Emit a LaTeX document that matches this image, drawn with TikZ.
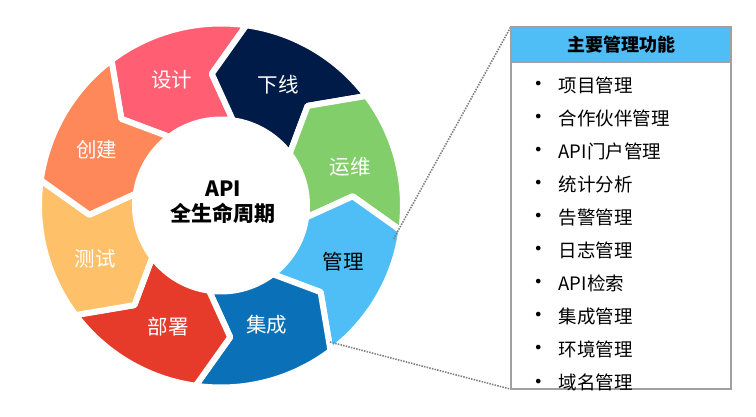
\documentclass[tikz,border=0pt]{standalone}
\usepackage{fontspec}
\newfontfamily\cjk{Noto Sans CJK SC}
\newfontfamily\dejavu{DejaVu Sans}
\definecolor{cSheji}{RGB}{255,94,115}
\definecolor{cXiaxian}{RGB}{0,27,72}
\definecolor{cYunwei}{RGB}{130,206,106}
\definecolor{cGuanli}{RGB}{79,190,246}
\definecolor{cJicheng}{RGB}{10,112,184}
\definecolor{cBushu}{RGB}{230,58,42}
\definecolor{cCeshi}{RGB}{255,192,106}
\definecolor{cChuangjian}{RGB}{255,136,90}
\definecolor{cBorder}{RGB}{160,160,160}
\definecolor{cDots}{RGB}{128,128,128}
\begin{document}
\begin{tikzpicture}[x=1pt,y=1pt,
  seg/.style={draw=white, line width=6pt, line join=round},
  lbl/.style={font=\cjk\fontsize{20.5}{24}\selectfont, text=white, inner sep=0pt},
  ctr/.style={font=\cjk\bfseries\fontsize{21}{25}\selectfont, text=black, inner sep=0pt},
  item/.style={font=\cjk\fontsize{18.5}{22}\selectfont, text=black, inner sep=0pt, anchor=west},
  bul/.style={font=\dejavu\fontsize{16}{18}\selectfont, text=black, inner sep=0pt},
  dots/.style={draw=cDots, line width=1.6pt, dash pattern=on 1.5pt off 1.2pt}]
\useasboundingbox (0,0) rectangle (756,416);
\begin{scope}[shift={(221,210.5)}]
\foreach \a/\col in {127/cSheji, 82/cXiaxian, 37/cYunwei, -8/cGuanli, -53/cJicheng, -98/cBushu, -143/cCeshi, 172/cChuangjian}{
  \pgfmathsetmacro\b{\a-45}
  \pgfmathsetmacro\bp{\a-33}
  \pgfmathsetmacro\ap{\a+12}
  \filldraw[seg, fill=\col] (\a:182pt) arc[start angle=\a, end angle=\b, radius=182pt]
    -- (\bp:132pt) -- (\b:86pt) arc[start angle=\b, end angle=\a, radius=86pt]
    -- (\ap:132pt) -- cycle;
}
\end{scope}
% segment labels
\node[lbl] (sheji) at (171.7,336) {设计};
\node[lbl] (xiaxian) at (278.3,331) {下线};
\node[lbl] (yunwei) at (350,249.3) {运维};
\node[lbl, text=black] (guanli) at (343.3,154.3) {管理};
\node[lbl] (jicheng) at (266.7,91) {集成};
\node[lbl] (bushu) at (168.3,89.3) {部署};
\node[lbl] (ceshi) at (95,157.7) {测试};
\node[lbl] (chuangjian) at (96.7,266) {创建};
% centre
\node[ctr] (ctrA) at (223.3,227.7) {API};
\node[ctr] (ctrB) at (223.3,202.7) {全生命周期};
% connectors
\coordinate (mgTop) at (393.5,177);
\coordinate (mgBot) at (330,74);
\node[minimum width=220pt, minimum height=362pt, inner sep=0pt] (panel) at (621,208) {};
\draw[dots] (mgTop) -- (panel.north west);
\draw[dots] (mgBot) -- (panel.south west);
\node[draw=cBorder, fill=white, line width=1.3pt, minimum width=220pt, minimum height=362pt, inner sep=0pt] (panelbox) at (621,208) {};
\node[draw=cBorder, fill=cGuanli, line width=1.3pt, minimum width=220pt, minimum height=35pt, anchor=north, inner sep=0pt,
  font=\cjk\bfseries\fontsize{18}{21}\selectfont] (head) at (panelbox.north) {主要管理功能};
\foreach \t [count=\i from 0] in {项目管理, 合作伙伴管理, API门户管理, 统计分析, 告警管理, 日志管理, API检索, 集成管理, 环境管理, 域名管理}{
  \node[bul] (b\i) at (538.3, {331-33.1*\i}) {•};
  \node[item] (t\i) at (558.5, {331-33.1*\i}) {\t};
}
\end{tikzpicture}
\end{document}
